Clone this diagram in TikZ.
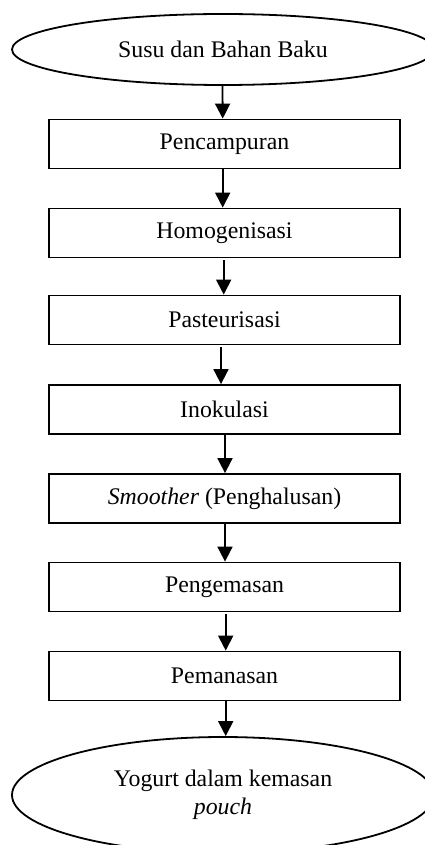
\documentclass[tikz,border=0pt]{standalone}
\usepackage{fontspec}
\setmainfont{Liberation Serif}
\usetikzlibrary{shapes.geometric,arrows.meta}
\begin{document}
\begin{tikzpicture}[x=1pt,y=-1pt,
  every node/.style={font=\fontsize{23.8}{28}\selectfont, align=center},
  stepbox/.style={draw, line width=1.8pt, minimum width=351pt, minimum height=49pt, inner sep=0pt},
  terminal/.style={draw, ellipse, line width=1.8pt, inner sep=0pt},
  flow/.style={line width=1.8pt, -{Triangle[length=15pt,width=15pt]}}]
  \useasboundingbox (0,0) rectangle (425,845);
  \begin{scope}
    \clip (0,0) rectangle (425,845);
    % start and end terminals
    \node[terminal, minimum width=422pt, minimum height=71pt] (start) at (223,49.5) {Susu dan Bahan Baku};
    \node[terminal, minimum width=422pt, minimum height=116pt] (finish) at (223,795) {Yogurt dalam kemasan\\ \textit{pouch}};
    % process steps
    \node[stepbox] (s1) at (224.5,144) {Pencampuran};
    \node[stepbox] (s2) at (224.5,233) {Homogenisasi};
    \node[stepbox] (s3) at (224.5,320) {Pasteurisasi};
    \node[stepbox] (s4) at (224.5,409.5) {Inokulasi};
    \node[stepbox] (s5) at (224.5,498.5) {\textit{Smoother} (Penghalusan)};
    \node[stepbox] (s6) at (224.5,587) {Pengemasan};
    \node[stepbox] (s7) at (224.5,676) {Pemanasan};
    % connectors
    \draw[flow] ([xshift=-0.5pt]start.south) -- ([xshift=-1.8pt]s1.north);
    \draw[flow] ([xshift=-1.8pt]s1.south) -- ([xshift=-1.8pt]s2.north);
    \draw[flow] ([xshift=-0.8pt]s2.south |- 0,260) -- ([xshift=-0.8pt]s2.south |- s3.north);
    \draw[flow] ([xshift=-3.5pt]s3.south |- 0,347) -- ([xshift=-3.5pt]s3.south |- s4.north);
    \draw[flow] ([xshift=0.5pt]s4.south) -- ([xshift=0.5pt]s5.north);
    \draw[flow] ([xshift=0.5pt]s5.south) -- ([xshift=0.5pt]s6.north);
    \draw[flow] ([xshift=1.2pt]s6.south |- 0,614) -- ([xshift=1.2pt]s6.south |- s7.north);
    \draw[flow] ([xshift=1.2pt]s7.south) -- ([xshift=1.2pt]s7.south |- finish.north);
  \end{scope}
\end{tikzpicture}
\end{document}
